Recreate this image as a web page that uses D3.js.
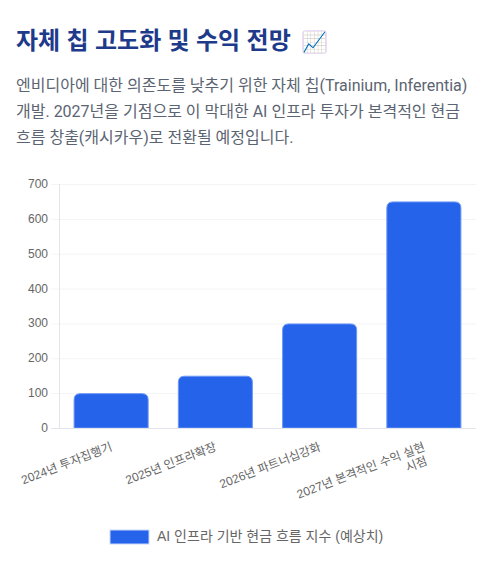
<!DOCTYPE html>
<html lang="ko">
<head>
<meta charset="utf-8">
<script src="https://cdn.jsdelivr.net/npm/d3@7.9.0/dist/d3.min.js"></script>
<style>
  body { margin: 0; background: #fff; width: 490px; height: 566px; overflow: hidden; position: relative; font-family: "Liberation Sans", "Noto Sans CJK KR", sans-serif; }
  h1 { position: absolute; left: 16px; top: 25px; margin: 0; font-size: 24px; line-height: 32px; font-weight: 700; color: #1e3a8a; white-space: nowrap; word-spacing: -0.3px; }
  /* hue-rotate also turns this pale background to the lilac of the icon */
  h1 span { display: inline-block; margin-left: 5px; font-size: 20px; word-spacing: 0; background: #e6e3c4; border-radius: 4px; filter: hue-rotate(210deg); line-height: 24px; vertical-align: 0; }
  p { position: absolute; left: 16px; top: 73px; width: 458px; margin: 0; font-family: Roboto, "Noto Sans CJK KR", sans-serif; font-size: 16px; line-height: 26px; color: #5b6472; }
  svg { position: absolute; left: 0; top: 0; }
  svg text { font-family: "Liberation Sans", "Noto Sans CJK KR", sans-serif; }
</style>
</head>
<body>
<h1>자체 칩 고도화 및 수익 전망 <span>📈</span></h1>
<p>엔비디아에 대한 의존도를 낮추기 위한 자체 칩(Trainium, Inferentia) 개발. 2027년을 기점으로 이 막대한 AI 인프라 투자가 본격적인 현금 흐름 창출(캐시카우)로 전환될 예정입니다.</p>
<svg id="chart" width="490" height="566"></svg>
<script>
const categories = [
  ['2024년 투자집행기'],
  ['2025년 인프라확장'],
  ['2026년 파트너십강화'],
  ['2027년 본격적인 수익 실현', '시점'],
];
const values = [100, 150, 300, 650];
const yTicks = [0, 100, 200, 300, 400, 500, 600, 700];
const seriesName = 'AI 인프라 기반 현금 흐름 지수 (예상치)';

const svg = d3.select('#chart');
const plotLeft = 59, plotRight = 476, plotTop = 184, plotBottom = 428;
const barFill = '#2563eb', barEdge = '#6d97f3';

const x = d3.scaleBand().domain(d3.range(categories.length)).range([plotLeft, plotRight]).paddingInner(0.28).paddingOuter(0.14);
const y = d3.scaleLinear().domain([0, 700]).range([plotBottom, plotTop]);

// grid
svg.append('g').selectAll('line').data(yTicks.slice(1)).join('line')
  .attr('x1', plotLeft - 8).attr('x2', plotRight)
  .attr('y1', d => y(d) + 0.5).attr('y2', d => y(d) + 0.5)
  .attr('stroke', '#f3f4f6');

svg.append('line').attr('x1', plotLeft + 0.5).attr('x2', plotLeft + 0.5).attr('y1', plotTop).attr('y2', plotBottom)
  .attr('stroke', '#e5e5e5');

// bars, top corners rounded
const r = 6;
svg.append('g').selectAll('path').data(values).join('path')
  .attr('d', (d, i) => {
    const x0 = x(i) + 0.5, x1 = x(i) + x.bandwidth() - 0.5, yt = y(d) + 0.5;
    return `M${x0},${plotBottom}V${yt + r}Q${x0},${yt} ${x0 + r},${yt}H${x1 - r}Q${x1},${yt} ${x1},${yt + r}V${plotBottom}Z`;
  })
  .attr('fill', barFill)
  .attr('stroke', barEdge);

svg.append('line').attr('x1', plotLeft - 8).attr('x2', plotRight).attr('y1', plotBottom + 0.5).attr('y2', plotBottom + 0.5)
  .attr('stroke', '#e2e5ea');

// y axis labels
svg.append('g').selectAll('text').data(yTicks).join('text')
  .attr('x', 48).attr('y', d => y(d) + 4)
  .attr('text-anchor', 'end').attr('font-size', 12).attr('fill', '#666')
  .text(d => d);

// x axis labels, rotated
const xl = svg.append('g').selectAll('g').data(categories).join('g')
  .attr('transform', (d, i) => `translate(${x(i) + x.bandwidth() / 2 + 2},${plotBottom + 22}) rotate(-21)`);
xl.each(function (lines) {
  const g = d3.select(this);
  lines.forEach((t, k) => {
    g.append('text')
      .attr('x', k ? -14 : 0)
      .attr('y', k * 14)
      .attr('text-anchor', k ? 'middle' : 'end')
      .attr('font-size', 12).attr('fill', '#666')
      .text(t);
  });
});

// legend
svg.append('rect').attr('x', 110).attr('y', 530).attr('width', 39).attr('height', 14)
  .attr('fill', barFill).attr('stroke', '#c9d8fa');
svg.append('text').attr('x', 157).attr('y', 541).attr('font-size', 14).attr('fill', '#666').text(seriesName);
</script>
</body>
</html>
